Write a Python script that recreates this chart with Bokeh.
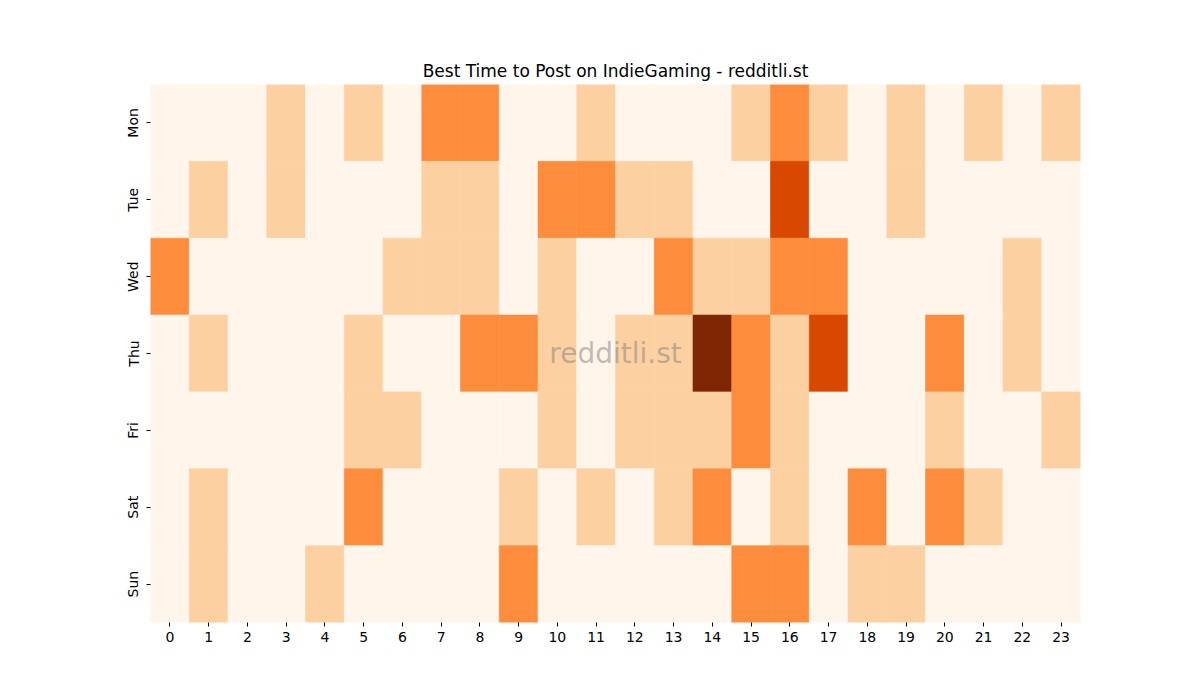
import math
from bokeh.plotting import figure
from bokeh.models import ColumnDataSource, LinearColorMapper, Range1d, FixedTicker, Label
from bokeh.transform import transform
from bokeh.embed import file_html
from bokeh.resources import INLINE

days = ["Mon", "Tue", "Wed", "Thu", "Fri", "Sat", "Sun"]
hours = list(range(24))

mon = [0,0,0,1,0,1,0,2,2,0,0,1,0,0,0,1,2,1,0,1,0,1,0,1]
tue = [0,1,0,1,0,0,0,1,1,0,2,2,1,1,0,0,3,0,0,1,0,0,0,0]
wed = [2,0,0,0,0,0,1,1,1,0,1,0,0,2,1,1,2,2,0,0,0,0,1,0]
thu = [0,1,0,0,0,1,0,0,2,2,1,0,1,1,4,2,1,3,0,0,2,0,1,0]
fri = [0,0,0,0,0,1,1,0,0,0,1,0,1,1,1,2,1,0,0,0,1,0,0,1]
sat = [0,1,0,0,0,2,0,0,0,1,0,1,0,1,2,0,1,0,2,0,2,1,0,0]
sun = [0,1,0,0,1,0,0,0,0,2,0,0,0,0,0,2,2,0,1,1,0,0,0,0]
rows = [mon, tue, wed, thu, fri, sat, sun]

palette = ["#fff5eb", "#fdd0a2", "#fd8d3c", "#d94801", "#7f2704"]

xs, ys, vs = [], [], []
for di, row in enumerate(rows):
    for h, v in zip(hours, row):
        xs.append(h)
        ys.append(di)
        vs.append(v)
src = ColumnDataSource(dict(x=xs, y=ys, v=vs))

mapper = LinearColorMapper(palette=palette, low=0, high=4)

p = figure(width=1200, height=700, output_backend="svg", toolbar_location=None,
           x_range=Range1d(-0.5, 23.5), y_range=Range1d(6.5, -0.5),
           title="Best Time to Post on IndieGaming - redditli.st",
           min_border_left=150, min_border_right=120, min_border_top=84, min_border_bottom=78)
p.rect(x="x", y="y", width=1, height=1, source=src,
       fill_color=transform("v", mapper), line_color=transform("v", mapper), line_width=0.6)

p.title.align = "center"
p.title.text_font = "DejaVu Sans"
p.title.text_font_size = "17px"
p.title.text_font_style = "normal"
p.title.text_color = "#000000"
p.title.standoff = 8

p.grid.visible = False
p.outline_line_color = None

p.xaxis.ticker = FixedTicker(ticks=hours)
p.yaxis.ticker = FixedTicker(ticks=list(range(7)))
p.yaxis.major_label_overrides = {i: d for i, d in enumerate(days)}
p.yaxis.major_label_orientation = "vertical"
for ax in (p.xaxis[0], p.yaxis[0]):
    ax.axis_line_color = None
    ax.minor_tick_line_color = None
    ax.major_tick_in = 0
    ax.major_tick_out = 4
    ax.major_tick_line_color = "#000000"
    ax.major_label_text_font = "DejaVu Sans"
    ax.major_label_text_font_size = "14px"
    ax.major_label_text_color = "#000000"
p.xaxis[0].major_label_standoff = 5
p.yaxis[0].major_label_standoff = 5

wm = Label(x=11.5, y=3, text="redditli.st", text_align="center", text_baseline="middle",
           text_font="DejaVu Sans", text_font_size="28px", text_color="#808080", text_alpha=0.5)
p.add_layout(wm)

open("out.html", "w").write(file_html(p, INLINE))
